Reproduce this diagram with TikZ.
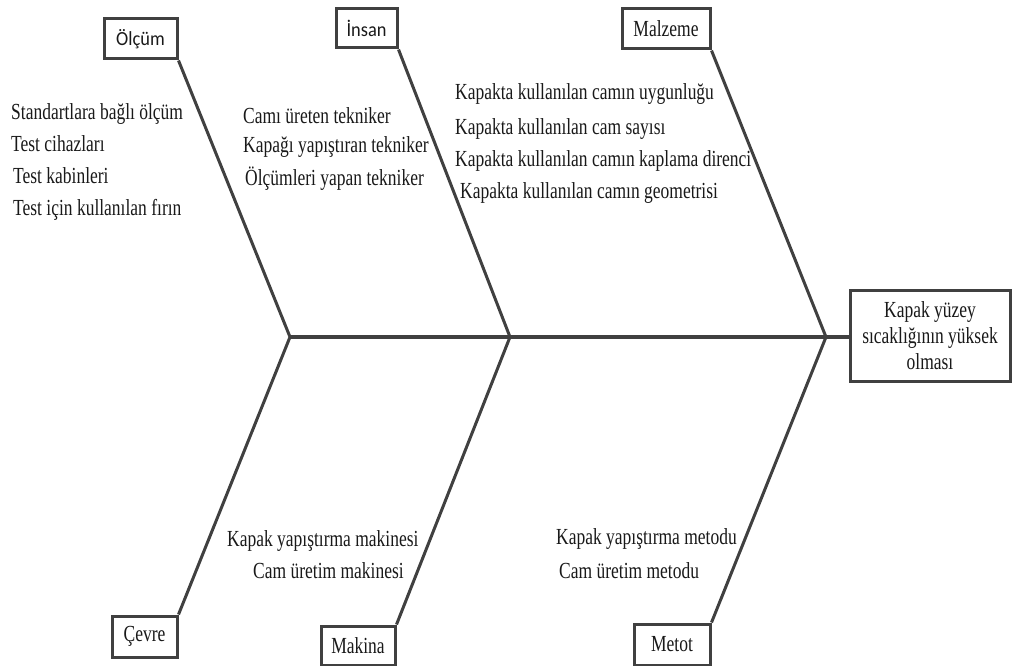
\documentclass[tikz,border=0pt]{standalone}
\usepackage{fontspec}
\setmainfont[FakeStretch=0.76]{Liberation Serif}
\newfontfamily\catsans[FakeStretch=0.92]{Carlito}
\usepackage{tikz}
\definecolor{bonegray}{HTML}{404040}
\tikzset{every node/.style={font=\fontsize{23}{26}\selectfont, text=black!90},
  catbox/.style={draw=bonegray, line width=3pt, fill=white, inner sep=0pt},
  cause/.style={anchor=base west, inner sep=0pt},
  bone/.style={draw=bonegray, line width=3pt, line join=round}}

\begin{document}
\begin{tikzpicture}[x=1pt, y=-1pt]
    \useasboundingbox (0,0) rectangle (1012,666);
    % spine
    \coordinate (j1) at (290,337);
    \coordinate (j2) at (510,337);
    \coordinate (j3) at (826,337);
    \node[catbox, minimum width=160pt, minimum height=91pt, align=center] (effect) at (930,335.5) {Kapak yüzey\\sıcaklığının yüksek\\olması};
    \draw[bone, line width=4pt] (j1) -- (j1 -| effect.west);
    % categories
    \node[catbox, minimum width=73pt, minimum height=40pt, font=\catsans\fontsize{20}{22}\selectfont] (olcum) at (140.5,39) {Ölçüm};
    \node[catbox, minimum width=61pt, minimum height=39pt, font=\catsans\fontsize{20}{22}\selectfont] (insan) at (366.5,28.5) {İnsan};
    \node[catbox, minimum width=88pt, minimum height=40pt] (malzeme) at (666,29) {Malzeme};
    \node[catbox, minimum width=65pt, minimum height=41pt] (cevre) at (144.5,636.5) {Çevre};
    \node[catbox, minimum width=74pt, minimum height=39pt] (makina) at (358,645.5) {Makina};
    \node[catbox, minimum width=76pt, minimum height=41pt] (metot) at (672,644.5) {Metot};
    % bones
    \draw[bone] (olcum.south east) -- (j1) -- (cevre.north east);
    \draw[bone] (insan.south east) -- (j2) -- (makina.north east);
    \draw[bone] (malzeme.south east) -- (j3) -- (metot.north east);
    % causes
    \foreach \txt/\x/\y [count=\i] in {Standartlara bağlı ölçüm/11/120, Test cihazları/11/152,
        Test kabinleri/13/183, Test için kullanılan fırın/13/215}
      \node[cause] (olcumtxt\i) at (\x,\y) {\txt};
    \foreach \txt/\x/\y [count=\i] in {Camı üreten tekniker/243/124, Kapağı yapıştıran tekniker/243/153,
        Ölçümleri yapan tekniker/245/185}
      \node[cause] (insantxt\i) at (\x,\y) {\txt};
    \foreach \txt/\x/\y [count=\i] in {Kapakta kullanılan camın uygunluğu/455/100, Kapakta kullanılan cam sayısı/455/135,
        Kapakta kullanılan camın kaplama direnci/455/166, Kapakta kullanılan camın geometrisi/460/198}
      \node[cause] (malzemetxt\i) at (\x,\y) {\txt};
    \foreach \txt/\x/\y [count=\i] in {Kapak yapıştırma makinesi/227/546, Cam üretim makinesi/253/578}
      \node[cause] (makinatxt\i) at (\x,\y) {\txt};
    \foreach \txt/\x/\y [count=\i] in {Kapak yapıştırma metodu/556/544, Cam üretim metodu/559/578}
      \node[cause] (metottxt\i) at (\x,\y) {\txt};
\end{tikzpicture}
\end{document}
